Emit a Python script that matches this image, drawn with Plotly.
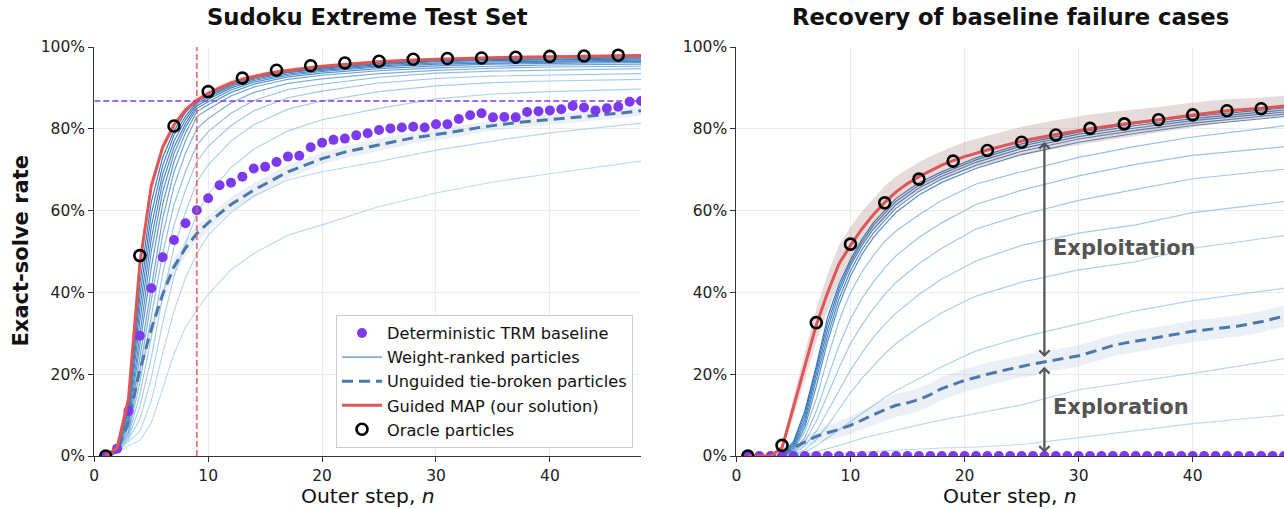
import plotly.graph_objects as go

# ---------------- DATA ----------------
N = list(range(1, 49))

# Left panel: Sudoku Extreme Test Set
L_BASELINE = [0, 1.8, 11.0, 29.4, 41.0, 48.6, 52.8, 56.9, 60.1, 63.0, 66.2, 66.8, 68.3, 70.3, 70.7, 71.9,
              73.2, 73.4, 75.5, 76.6, 77.3, 77.6, 78.4, 78.9, 79.7, 80.1, 80.3, 80.5, 80.3, 81.1, 81.1, 82.4,
              83.3, 83.8, 82.8, 82.9, 82.8, 84.1, 84.3, 84.5, 84.8, 85.6, 85.2, 84.5, 85.0, 85.4, 86.6, 86.8]

MAP_N = [1, 2, 3, 4, 5, 6, 7, 8, 9, 10, 11, 12, 13, 14, 15, 16, 17, 18, 19, 20, 22, 25, 28, 31, 34, 37, 40, 43, 46, 48]
L_MAP = [0, 2, 14, 47, 66, 75.5, 81, 84.6, 87, 88.7, 90, 91.2, 92.1, 92.8, 93.4, 93.9, 94.3, 94.7, 95.0, 95.3,
         95.8, 96.4, 96.8, 97.1, 97.3, 97.5, 97.6, 97.7, 97.8, 97.9]
L_MAP_ERR = [0, 0.3, 1.2, 2.0, 2.0, 1.6, 1.3, 1.1, 1.0, 0.9, 0.8, 0.8, 0.7, 0.7, 0.6, 0.6, 0.6, 0.5, 0.5, 0.5,
             0.5, 0.4, 0.4, 0.4, 0.4, 0.4, 0.4, 0.4, 0.4, 0.4]

ORACLE_N = [1, 4, 7, 10, 13, 16, 19, 22, 25, 28, 31, 34, 37, 40, 43, 46]
L_ORACLE = [0, 49.0, 80.7, 89.1, 92.4, 94.3, 95.4, 96.1, 96.5, 97.0, 97.2, 97.3, 97.5, 97.7, 97.8, 98.0]

L_UNG_N = [1, 2, 3, 4, 5, 6, 7, 8, 9, 10, 12, 14, 17, 20, 22, 25, 28, 31, 34, 37, 40, 43, 46, 48]
L_UNG = [0, 1, 8.5, 21, 31, 39.5, 46.3, 50.8, 54.4, 57, 61.5, 65, 69.5, 72.7, 74.3, 76.1, 77.8, 79, 80.4,
         81.5, 82.2, 83, 83.8, 84.4]
L_UNG_ERR = [0, 0.3, 1, 1.5, 2, 2, 2, 2, 2, 1.8, 1.8, 1.7, 1.6, 1.5, 1.5, 1.5, 1.4, 1.4, 1.3, 1.3, 1.3,
             1.2, 1.2, 1.2]

L_PART_N = [1, 2, 3, 4, 5, 6, 7, 8, 9, 10, 12, 14, 17, 20, 25, 30, 35, 40, 48]
L_PARTICLES = [
    [0, 2.0, 13, 42, 62, 73, 79.5, 84, 87.0, 88.5, 91.0, 92.6, 94.1, 95.0, 96.1, 96.8, 97.1, 97.4, 97.6],
    [0, 2.0, 12, 39, 59, 71, 78.5, 83, 86.6, 88.1, 90.7, 92.4, 93.9, 94.8, 95.9, 96.6, 96.9, 97.1, 97.3],
    [0, 2.0, 11, 36, 56, 69, 77, 82.2, 86.1, 87.7, 90.4, 92.1, 93.7, 94.6, 95.7, 96.4, 96.7, 96.9, 97.1],
    [0, 1.9, 10, 33, 53, 67, 75.5, 81.2, 85.6, 87.2, 90.0, 91.8, 93.4, 94.3, 95.4, 96.1, 96.4, 96.6, 96.8],
    [0, 1.8, 9, 30, 50, 64.5, 74, 80.3, 85.0, 86.6, 89.5, 91.4, 93.1, 94.0, 95.1, 95.8, 96.1, 96.3, 96.5],
    [0, 1.7, 8, 27, 46, 61.5, 72, 79, 84.2, 85.9, 88.9, 90.9, 92.7, 93.6, 94.7, 95.4, 95.8, 96.0, 96.2],
    [0, 1.6, 7, 24, 42, 58, 69.5, 77, 83.0, 84.8, 88.0, 90.2, 92.1, 93.1, 94.2, 94.9, 95.3, 95.6, 95.8],
    [0, 1.5, 6, 21, 38, 54, 66, 74, 80.0, 82.5, 86.3, 88.9, 91.1, 92.2, 93.5, 94.3, 94.8, 95.1, 95.3],
    [0, 1.4, 5.5, 18, 34, 49.5, 61.5, 69.5, 76.0, 79.3, 83.8, 86.9, 89.6, 90.9, 92.6, 93.6, 94.1, 94.4, 94.7],
    [0, 1.3, 5, 15, 29, 44.5, 56.5, 65, 72.0, 75.7, 80.8, 84.4, 87.6, 89.2, 91.2, 92.3, 92.9, 93.2, 93.5],
    [0, 1.2, 4.5, 12, 24, 39, 51, 59.5, 67.0, 71.2, 77.0, 81.0, 84.8, 86.8, 89.1, 90.5, 91.3, 91.7, 92.1],
    [0, 1.1, 4, 9, 19, 32.5, 44, 52, 59.0, 64.0, 70.5, 75.0, 79.5, 82.2, 85.0, 87.3, 88.5, 89.1, 89.7],
    [0, 1.0, 3.5, 6, 13.5, 25, 35.5, 43.5, 49.5, 54.0, 59.5, 63.5, 67.5, 69.5, 72.0, 74.8, 77.0, 79.0, 81.4],
    [0, 0.8, 2.5, 3.8, 8, 16.5, 25, 31.5, 35.7, 39.5, 45.5, 49.5, 54, 56.5, 61.0, 64.3, 67.0, 69.0, 72.1],
]

# Right panel: Recovery of baseline failure cases
R_BASELINE = [0.0] * 48

R_MAP = [0, 0, 0, 2, 12, 22, 32, 40, 47, 51.5, 55.5, 59, 62, 64.6, 66.6, 68.3, 69.8, 71.1, 72.2, 73.2,
         74.8, 77, 78.6, 80, 81.2, 82.2, 83.4, 84.4, 85, 85.6]
R_MAP_ERR = [0, 0, 0, 0.8, 2.5, 3.5, 4, 4.5, 4.5, 4.5, 4.3, 4, 4, 3.8, 3.6, 3.5, 3.5, 3.5, 3.5, 3.5,
             3.5, 3.5, 3.5, 3.5, 3.3, 3.1, 3, 2.8, 2.6, 2.5]

R_ORACLE = [0, 2.6, 32.6, 51.8, 61.9, 67.7, 72.1, 74.7, 76.7, 78.5, 80.1, 81.2, 82.2, 83.4, 84.4, 84.9]

R_UNG_N = [1, 2, 3, 4, 5, 6, 7, 8, 9, 10, 11, 12, 13, 14, 15, 16, 17, 18, 19, 20, 21, 22, 24, 26, 28, 30,
           31, 32, 33, 34, 36, 38, 40, 42, 44, 46, 48]
R_UNG = [0, 0, 0, 0, 2, 3.5, 4.8, 5.7, 6.5, 7.5, 8.8, 10, 11.3, 12.4, 13, 13.8, 15, 16.5, 17.5, 18.5,
         19.2, 20, 21.3, 22.5, 23.5, 24.5, 25.3, 26.2, 27, 27.6, 28.5, 29.5, 30.5, 31.2, 31.8, 32.8, 34.2]
R_UNG_ERR = [0, 0, 0, 0, 0.8, 1.2, 1.5, 1.8, 2, 2.2, 2.4, 2.6, 2.7, 2.8, 2.8, 2.8, 2.8, 2.8, 2.8, 2.8,
             2.8, 2.8, 2.7, 2.7, 2.6, 2.6, 2.6, 2.6, 2.6, 2.6, 2.6, 2.6, 2.6, 2.6, 2.6, 2.6, 2.6]

R_PART_N = [1, 2, 3, 4, 5, 6, 7, 8, 9, 10, 11, 12, 13, 14, 16, 18, 21, 25, 30, 35, 40, 48]
R_PARTICLES = [
    [0, 0, 0, 0.3, 3.5, 11, 22, 34, 42, 48, 53, 57, 60, 63, 66.8, 69.5, 72.9, 76.3, 79.2, 81.3, 83, 85.1],
    [0, 0, 0, 0.3, 3, 10, 21, 32.5, 41, 47.3, 52.3, 56.3, 59.3, 62.3, 66.2, 69, 72.4, 75.8, 78.7, 80.8, 82.5, 84.6],
    [0, 0, 0, 0.2, 2.5, 9, 20, 31, 40, 46.5, 51.5, 55.5, 58.5, 61.5, 65.5, 68.4, 71.8, 75.2, 78.1, 80.2, 82, 84.1],
    [0, 0, 0, 0.2, 2, 8, 18.5, 29.5, 38.5, 45.3, 50.5, 54.5, 57.6, 60.6, 64.7, 67.7, 71.1, 74.5, 77.5, 79.6, 81.4, 83.6],
    [0, 0, 0, 0.1, 1.5, 7, 17, 28, 37, 44, 49.3, 53.4, 56.6, 59.6, 63.8, 66.9, 70.3, 73.7, 76.7, 78.9, 80.8, 83.0],
    [0, 0, 0, 0, 1.5, 6, 14, 24, 33, 40, 45, 49, 52.5, 55, 59, 62.5, 66.5, 69.5, 73, 75.7, 78, 80.7],
    [0, 0, 0, 0, 1, 4.5, 11, 19, 27, 33.5, 38.5, 42.5, 46, 49, 53.5, 57, 61.5, 65, 68.5, 71.3, 73.5, 75.6],
    [0, 0, 0, 0, 0.8, 3.5, 8.5, 15, 21.5, 27.5, 32, 36, 39.5, 42.5, 47, 50.8, 55.5, 59, 62.5, 65.2, 67.8, 70.1],
    [0, 0, 0, 0, 0.5, 2.5, 6, 11, 16, 21, 25.2, 29, 32.2, 35, 39.5, 43.3, 47.7, 51.5, 54.5, 56.5, 59.5, 62.2],
    [0, 0, 0, 0, 0.3, 1.5, 4, 7.5, 11.5, 15.5, 19, 22, 25, 27.5, 31.5, 35, 39.1, 42.5, 45.5, 47.5, 50.8, 53.9],
    [0, 0, 0, 0, 0.2, 1, 2.5, 4.5, 6.5, 8.5, 10.5, 12.5, 14.3, 16, 19, 21.8, 25.7, 29, 32.3, 35.5, 38, 41],
    [0, 0, 0, 0, 0, 0.3, 1, 1.8, 2.6, 3.5, 4.3, 5, 5.7, 6.3, 7.6, 8.8, 10.4, 12.5, 16.2, 18.2, 20.2, 23.8],
    [0, 0, 0, 0, 0, 0, 0.2, 0.4, 0.6, 0.8, 1, 1.1, 1.25, 1.4, 1.7, 1.95, 2.2, 2.8, 4.5, 6.2, 7.9, 10],
]

# Annotated gaps on right panel (outer step, lower %, upper %)
ARROW_N = 27
EXPLOIT_RANGE = (24.2, 76.8)
EXPLORE_RANGE = (0.8, 21.8)
LABEL_N = 27.55
EXPLOIT_LABEL_Y = 50.8
EXPLORE_LABEL_Y = 11.9

X_TICKS = [0, 10, 20, 30, 40]
Y_TICKS = [0, 20, 40, 60, 80, 100]
Y_TICK_LABELS = ["0%", "20%", "40%", "60%", "80%", "100%"]

# ---------------- STYLE ----------------
PURPLE = "#7c3aed"
RED = "#e05656"
DASH_BLUE = "#4a78aa"
FONT = "DejaVu Sans"
W, H = 1284, 509
ML, MR, MT, MB = 0, 0, 47, 53
X1_DOM = (94.3 / W, 641.0 / W)
X2_DOM = (736.4 / W, 1.0)
# shade position (0 = dark, 1 = light) of each weight-ranked line
L_SHADES = [0.0, 0.04, 0.08, 0.12, 0.17, 0.25, 0.35, 0.5, 0.65, 0.75, 0.82, 0.88, 0.94, 1.0]
R_SHADES = [0.0, 0.05, 0.1, 0.15, 0.2, 0.68, 0.72, 0.76, 0.8, 0.85, 0.9, 0.95, 1.0]


def px_y(p):
    return (H - MB - p) / (H - MT - MB)


def blue_shade(t):
    c0 = (40, 110, 182)
    c1 = (160, 204, 234)
    c = tuple(round(a + (b - a) * t) for a, b in zip(c0, c1))
    alpha = 0.95 - 0.25 * t
    return f"rgba({c[0]},{c[1]},{c[2]},{alpha:.2f})"


def band(x, y, err, color, xa, ya):
    up = [a + e for a, e in zip(y, err)]
    lo = [a - e for a, e in zip(y, err)]
    return go.Scatter(x=list(x) + list(x)[::-1], y=up + lo[::-1], fill="toself", fillcolor=color,
                      line=dict(width=0), mode="lines", hoverinfo="skip", showlegend=False,
                      xaxis=xa, yaxis=ya)


fig = go.Figure()

for xa, ya, parts, pn, shades, ung_n, ung, ung_err, base, mapv, map_err, orc, band_col, legend in [
    ("x", "y", L_PARTICLES, L_PART_N, L_SHADES, L_UNG_N, L_UNG, L_UNG_ERR, L_BASELINE, L_MAP, L_MAP_ERR,
     L_ORACLE, "rgba(150,120,120,0.15)", True),
    ("x2", "y2", R_PARTICLES, R_PART_N, R_SHADES, R_UNG_N, R_UNG, R_UNG_ERR, R_BASELINE, R_MAP, R_MAP_ERR,
     R_ORACLE, "rgba(150,105,105,0.24)", False),
]:
    for row, t in zip(parts, shades):
        fig.add_trace(go.Scatter(x=pn, y=row, mode="lines", xaxis=xa, yaxis=ya,
                                 line=dict(color=blue_shade(t), width=1.15),
                                 showlegend=False, hoverinfo="skip"))
    fig.add_trace(band(ung_n, ung, ung_err, "rgba(74,120,170,0.11)", xa, ya))
    fig.add_trace(go.Scatter(x=ung_n, y=ung, mode="lines", xaxis=xa, yaxis=ya,
                             line=dict(color=DASH_BLUE, width=3, dash="11px,6px"),
                             name="Unguided tie-broken particles", legendrank=3, showlegend=legend))
    fig.add_trace(go.Scatter(x=N, y=base, mode="markers", xaxis=xa, yaxis=ya,
                             marker=dict(color=PURPLE, size=10),
                             name="Deterministic TRM baseline", legendrank=1, showlegend=legend))
    fig.add_trace(band(MAP_N, mapv, map_err, band_col, xa, ya))
    fig.add_trace(go.Scatter(x=MAP_N, y=mapv, mode="lines", xaxis=xa, yaxis=ya,
                             line=dict(color=RED, width=3),
                             name="Guided MAP (our solution)", legendrank=4, showlegend=legend))
    fig.add_trace(go.Scatter(x=ORACLE_N, y=orc, mode="markers", xaxis=xa, yaxis=ya,
                             marker=dict(symbol="circle-open", color="black", size=11,
                                         line=dict(width=2.6, color="black")),
                             name="Oracle particles", legendrank=5, showlegend=legend))

# legend-only entry for the weight-ranked particles
fig.add_trace(go.Scatter(x=[None], y=[None], mode="lines", xaxis="x", yaxis="y",
                         line=dict(color="rgba(70,130,195,0.9)", width=1.3),
                         name="Weight-ranked particles", legendrank=2))

# reference lines on left panel
target = L_BASELINE[-1]
cross_n = next(n for n, v in zip(MAP_N, L_MAP) if v >= target)
fig.add_shape(type="line", xref="x", yref="y", x0=0, x1=max(N), y0=target, y1=target,
              line=dict(color="rgba(124,58,237,0.75)", width=1.8, dash="6px,3px"), layer="above")
fig.add_shape(type="line", xref="x", yref="y", x0=cross_n, x1=cross_n, y0=0, y1=100,
              line=dict(color="rgba(232,90,90,0.85)", width=1.8, dash="6px,3px"), layer="above")

# double-headed arrows on right panel
annotations = []
for lo, hi in (EXPLOIT_RANGE, EXPLORE_RANGE):
    for tip, tail in ((lo, hi), (hi, lo)):
        annotations.append(dict(x=ARROW_N, y=tip, ax=ARROW_N, ay=tail, xref="x2", yref="y2",
                                axref="x2", ayref="y2", text="", showarrow=True, arrowhead=4,
                                arrowsize=1.1, arrowwidth=1.8, arrowcolor="#555555"))
for label, yv in (("Exploitation", EXPLOIT_LABEL_Y), ("Exploration", EXPLORE_LABEL_Y)):
    annotations.append(dict(x=LABEL_N, y=yv, xref="x2", yref="y2", text=f"<b>{label}</b>",
                            showarrow=False, xanchor="left", yanchor="middle",
                            font=dict(family=FONT, size=21, color="#555555")))

# titles
for txt, dom in (("Sudoku Extreme Test Set", X1_DOM), ("Recovery of baseline failure cases", X2_DOM)):
    annotations.append(dict(x=(dom[0] + dom[1]) / 2, y=px_y(17), xref="paper", yref="paper",
                            text=f"<b>{txt}</b>", showarrow=False, xanchor="center", yanchor="middle",
                            font=dict(family=FONT, size=22.7, color="#111111")))
    annotations.append(dict(x=(dom[0] + dom[1]) / 2, y=px_y(496), xref="paper", yref="paper",
                            text="Outer step, <i>n</i>", showarrow=False, xanchor="center",
                            yanchor="middle", font=dict(family=FONT, size=20.3, color="#111111")))
annotations.append(dict(x=20 / W, y=0.5, xref="paper", yref="paper", text="<b>Exact-solve rate</b>",
                        textangle=-90, showarrow=False, xanchor="center", yanchor="middle",
                        font=dict(family=FONT, size=21, color="#111111")))

axis_common = dict(showline=True, linecolor="#333333", linewidth=1.3, ticks="outside", ticklen=5,
                   tickwidth=1.2, tickcolor="#333333", showgrid=True, gridcolor="#ececec", gridwidth=1,
                   zeroline=False, automargin=False,
                   tickfont=dict(family=FONT, size=15.5, color="#222222"))

fig.update_layout(
    width=W, height=H, margin=dict(l=ML, r=MR, t=MT, b=MB, autoexpand=False),
    paper_bgcolor="white", plot_bgcolor="white",
    font=dict(family=FONT, color="#222222"),
    xaxis=dict(domain=list(X1_DOM), range=[0, 48], tickvals=X_TICKS, anchor="y", **axis_common),
    yaxis=dict(domain=[0, 1], range=[0, 100], tickvals=Y_TICKS, ticktext=Y_TICK_LABELS, anchor="x",
               **axis_common),
    xaxis2=dict(domain=list(X2_DOM), range=[0, 48], tickvals=X_TICKS, anchor="y2", **axis_common),
    yaxis2=dict(domain=[0, 1], range=[0, 100], tickvals=Y_TICKS, ticktext=Y_TICK_LABELS, anchor="x2",
                **axis_common),
    legend=dict(x=633 / W, xanchor="right", y=px_y(448), yanchor="bottom", xref="paper", yref="paper",
                bgcolor="rgba(255,255,255,0.9)", bordercolor="#cccccc", borderwidth=1,
                font=dict(family=FONT, size=16.2, color="#111111"), tracegroupgap=0, itemwidth=40),
    annotations=annotations,
    showlegend=True,
)

fig.write_html("out.html")
